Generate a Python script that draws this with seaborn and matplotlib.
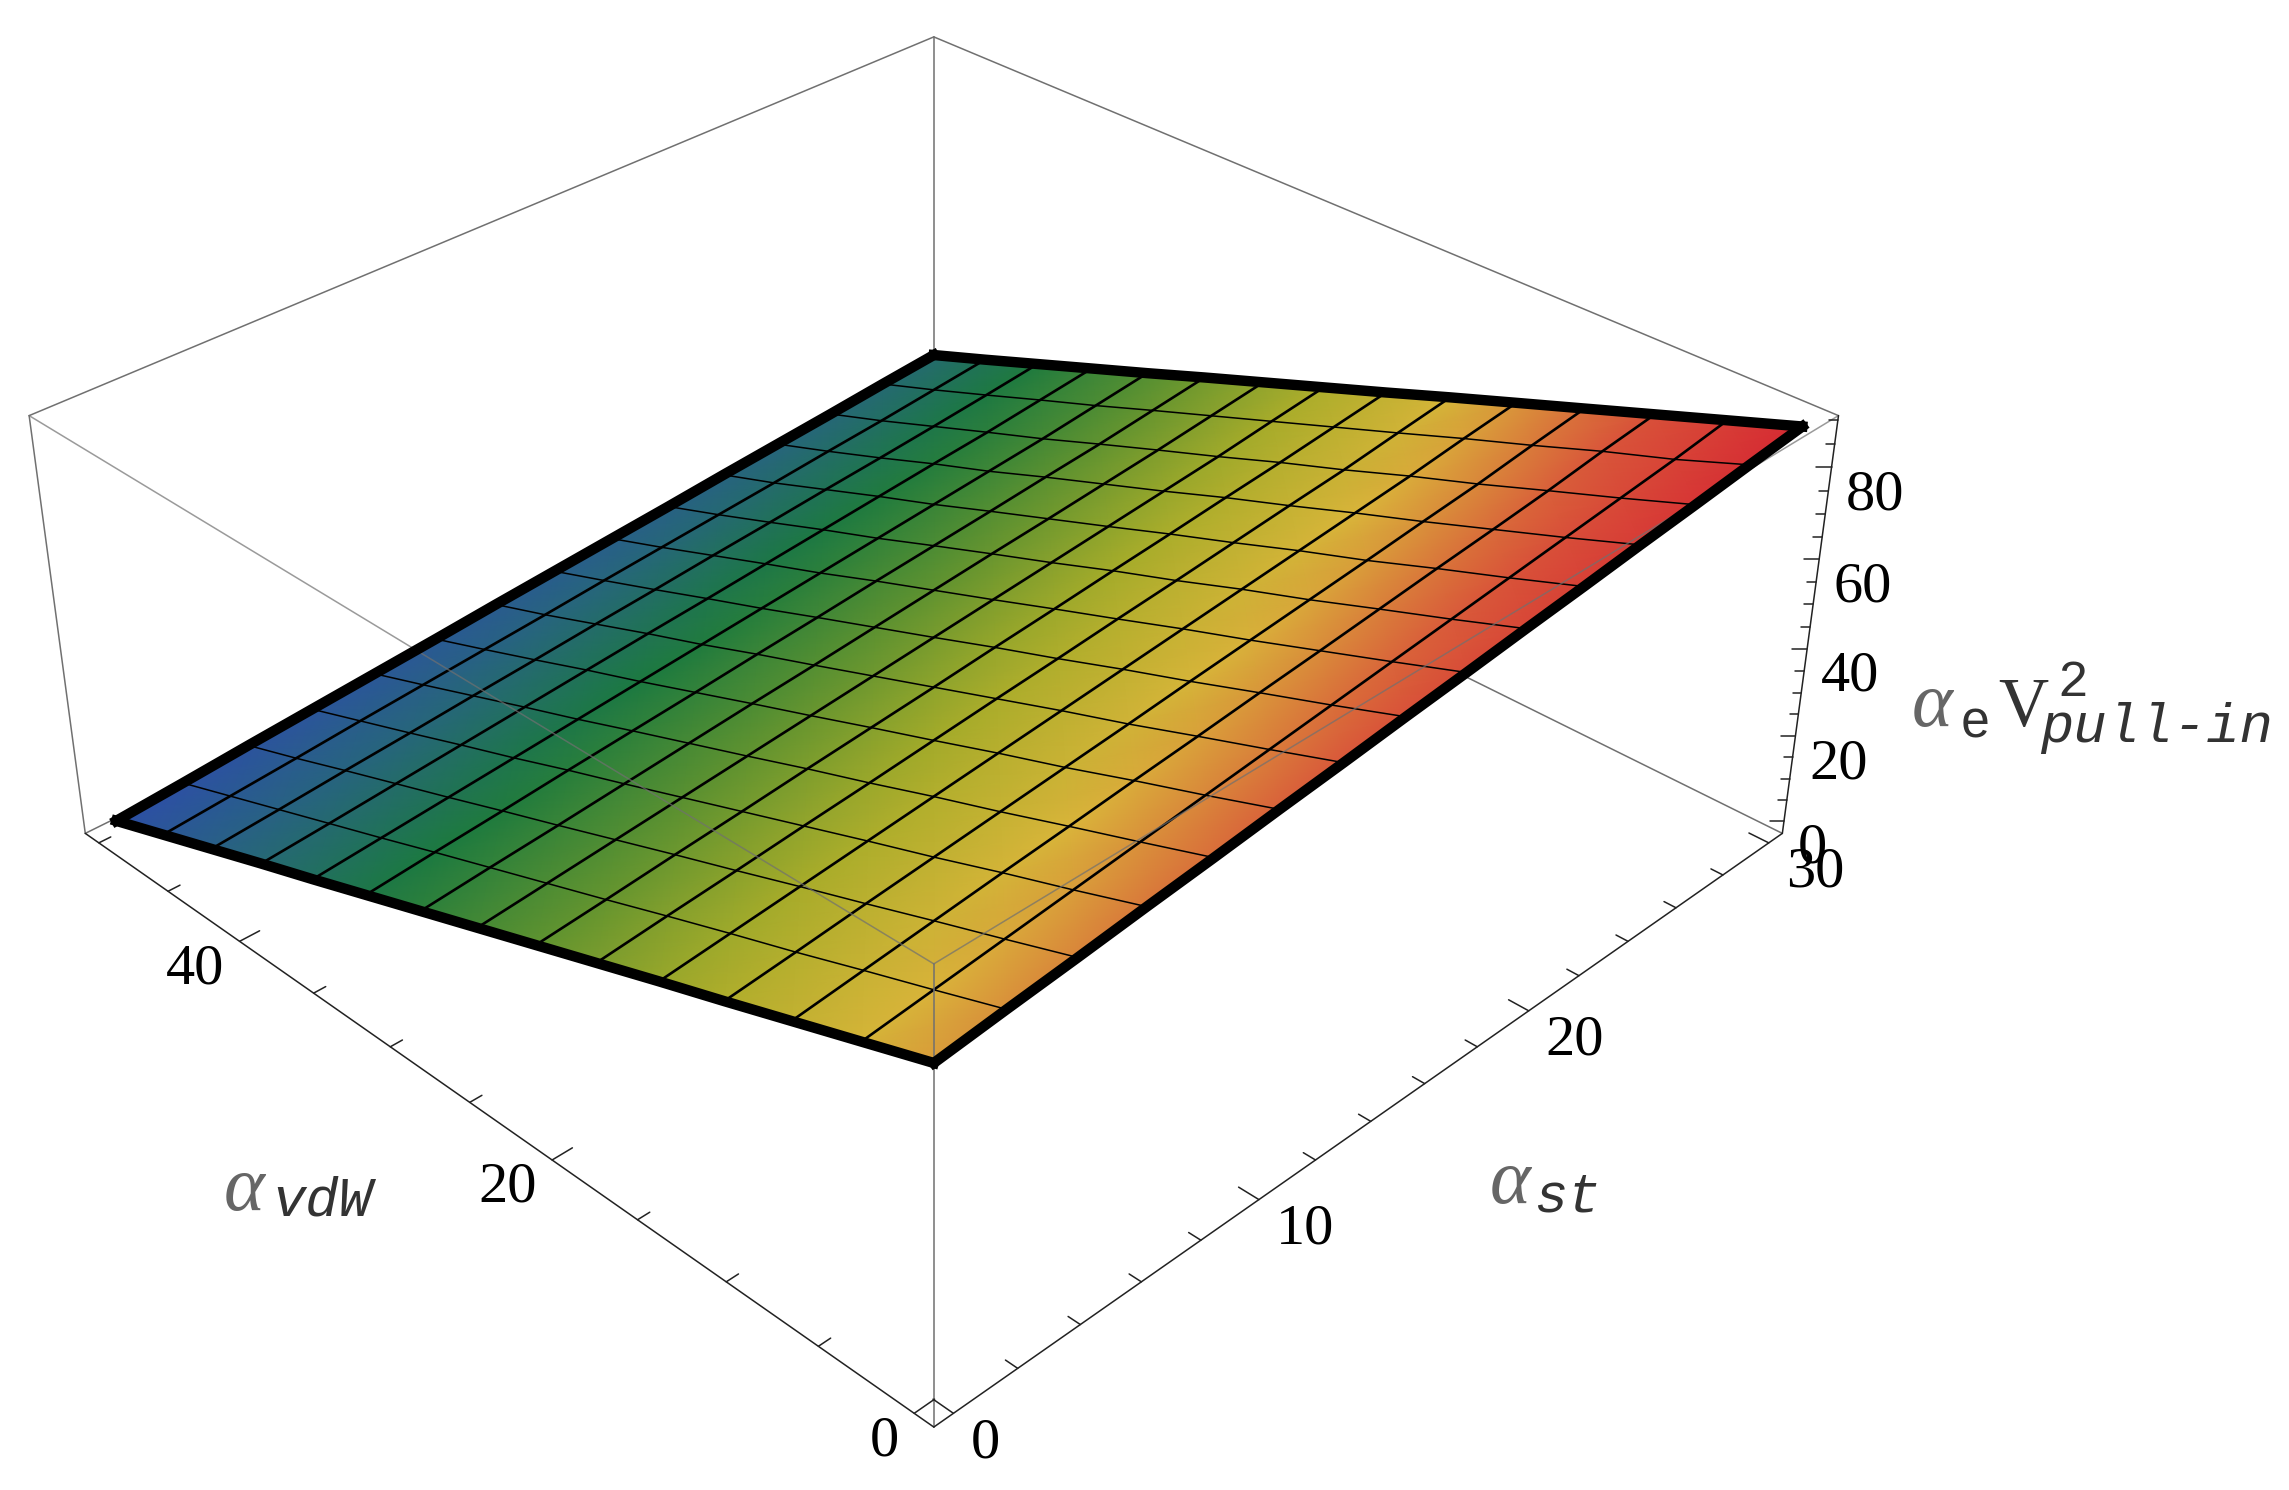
import numpy as np
import matplotlib
matplotlib.use('Agg')
import matplotlib.pyplot as plt
import seaborn as sns
from matplotlib.collections import QuadMesh
from matplotlib.colors import Normalize
from mpl_toolkits.mplot3d import proj3d

# mesh nodes of the surface
alpha_st = [0.0, 2.14, 4.29, 6.43, 8.57, 10.71, 12.86, 15.0, 17.14, 19.29, 21.43, 23.57, 25.71, 27.86, 30.0]
alpha_vdw = [0.0, 3.57, 7.14, 10.71, 14.29, 17.86, 21.43, 25.0, 28.57, 32.14, 35.71, 39.29, 42.86, 46.43, 50.0]

# alpha_e * V^2, one row per alpha_vdw
pull_in = [
    [67.0, 68.6, 70.1, 71.7, 73.2, 74.8, 76.3, 77.9, 79.4, 81.0, 82.5, 84.1, 85.6, 87.2, 88.7],
    [62.2, 63.7, 65.2, 66.7, 68.2, 69.7, 71.2, 72.7, 74.2, 75.7, 77.2, 78.7, 80.2, 81.7, 83.5],
    [57.4, 58.9, 60.4, 61.9, 63.3, 64.8, 66.2, 67.7, 69.1, 70.6, 72.1, 73.5, 75.0, 76.8, 78.3],
    [52.6, 54.0, 55.5, 56.9, 58.3, 59.7, 61.1, 62.6, 64.0, 65.4, 66.8, 68.3, 69.7, 71.5, 73.1],
    [47.9, 49.3, 50.7, 52.1, 53.5, 54.9, 56.3, 57.7, 59.1, 60.5, 61.9, 63.3, 64.7, 66.4, 67.9],
    [43.1, 44.5, 45.8, 47.2, 48.5, 49.9, 51.3, 52.6, 54.0, 55.3, 56.7, 58.1, 59.4, 61.1, 62.7],
    [38.3, 39.6, 41.0, 42.3, 43.7, 45.0, 46.3, 47.7, 49.0, 50.4, 51.7, 53.1, 54.4, 55.9, 57.4],
    [33.5, 34.8, 36.1, 37.4, 38.7, 40.0, 41.3, 42.6, 43.9, 45.2, 46.5, 47.8, 49.1, 50.7, 52.2],
    [28.7, 30.0, 31.2, 32.5, 33.8, 35.1, 36.3, 37.6, 38.9, 40.2, 41.4, 42.7, 44.0, 45.5, 47.0],
    [23.9, 25.2, 26.4, 27.7, 28.9, 30.1, 31.4, 32.6, 33.9, 35.1, 36.3, 37.6, 38.8, 40.3, 41.8],
    [19.1, 20.3, 21.5, 22.7, 23.9, 25.1, 26.3, 27.5, 28.7, 29.9, 31.1, 32.3, 33.5, 35.0, 36.5],
    [14.4, 15.5, 16.7, 17.9, 19.1, 20.3, 21.5, 22.6, 23.8, 25.0, 26.2, 27.4, 28.5, 29.9, 31.3],
    [9.6, 10.7, 11.9, 13.0, 14.2, 15.3, 16.5, 17.6, 18.8, 19.9, 21.1, 22.2, 23.4, 24.7, 26.1],
    [4.8, 5.9, 7.0, 8.2, 9.3, 10.4, 11.5, 12.7, 13.8, 14.9, 16.0, 17.2, 18.3, 19.6, 20.9],
    [0.0, 1.1, 2.3, 3.4, 4.5, 5.6, 6.8, 7.9, 9.0, 10.1, 11.3, 12.4, 13.5, 14.7, 15.8],
]

st_major = [0, 10, 20, 30]
st_minor = [2, 4, 6, 8, 12, 14, 16, 18, 22, 24, 26, 28]
vdw_major = [0, 20, 40]
vdw_minor = [5, 10, 15, 25, 30, 35, 45, 50]
z_major = [0, 20, 40, 60, 80]
z_minor = [5, 10, 15, 25, 30, 35, 45, 50, 55, 65, 70, 75, 85, 90]

surface_colors = ['#2d4fa6', '#27667c', '#1c7a3f', '#5d9230', '#a9ad2a', '#d9b53a', '#d9573a', '#d62a33']

W, H = 2289, 1490
XLIM = (-0.6, 30.6)
YLIM = (-1.0, 51.0)
ZLIM = (-3.0, 91.0)
GRAY = '#707070'

sns.set_theme(style='white')
plt.rcParams['font.family'] = 'Liberation Serif'

fig = plt.figure(figsize=(W / 100, H / 100), dpi=100, facecolor='white')
ax = fig.add_axes([238 / W, 163 / H, 1355 / W, 1355 / H], projection='3d', computed_zorder=False)
ax.set_xlim(*XLIM)
ax.set_ylim(*YLIM)
ax.set_zlim(*ZLIM)
ax.set_box_aspect((1, 1, 0.40), zoom=1.304)
ax.view_init(elev=32.6, azim=-135)
ax.set_proj_type('persp', focal_length=0.569)
ax.set_axis_off()
ax.patch.set_visible(False)


def line3(xs, ys, zs, **kw):
    kw.setdefault('color', GRAY)
    kw.setdefault('lw', 1.1)
    kw.setdefault('zorder', 1)
    ax.plot(xs, ys, zs, clip_on=False, **kw)


x0, x1 = XLIM
y0, y1 = YLIM
z0, z1 = ZLIM

# box edges behind the surface
line3([x0, x1], [y1, y1], [z0, z0])
line3([x1, x1], [y0, y1], [z0, z0])
line3([x1, x1], [y1, y1], [z0, z1])
line3([x0, x1], [y1, y1], [z1, z1])
line3([x1, x1], [y0, y1], [z1, z1])
line3([x0, x0], [y1, y1], [z0, z1])

# surface, gouraud shaded in the projected coordinates of the 3d axes
st_grid, vdw_grid = np.meshgrid(alpha_st, alpha_vdw)
z_grid = np.array(pull_in)
M = ax.get_proj()
px, py, _ = proj3d.proj_transform(st_grid.ravel(), vdw_grid.ravel(), z_grid.ravel(), M)
coords = np.dstack([px.reshape(z_grid.shape), py.reshape(z_grid.shape)])
cmap = sns.blend_palette(surface_colors, as_cmap=True)
mesh = QuadMesh(coords, shading='gouraud', cmap=cmap, norm=Normalize(0, 89), array=z_grid.ravel(),
                transform=ax.transData, zorder=2)
mesh.do_3d_projection = lambda: 0
ax.add_collection(mesh, autolim=False)
mesh.set_clip_on(False)

# mesh lines
for j in range(1, 14):
    line3(alpha_st, [alpha_vdw[j]] * 15, z_grid[j], color='black', lw=1.9, zorder=3)
for i in range(1, 14):
    line3([alpha_st[i]] * 15, alpha_vdw, z_grid[:, i], color='black', lw=1.1, zorder=3)

# box edges in front of the surface
line3([x0, x1], [y0, y0], [z1, z1], alpha=0.7, zorder=4)
line3([x0, x0], [y0, y1], [z1, z1], alpha=0.7, zorder=4)
line3([x0, x0], [y0, y0], [z0, z1], zorder=4)

# thick border
for xs, ys, zs in [(alpha_st, [alpha_vdw[0]] * 15, z_grid[0]),
                   (alpha_st, [alpha_vdw[-1]] * 15, z_grid[-1]),
                   ([alpha_st[0]] * 15, alpha_vdw, z_grid[:, 0]),
                   ([alpha_st[-1]] * 15, alpha_vdw, z_grid[:, -1])]:
    line3(xs, ys, zs, color='black', lw=7.5, zorder=5, solid_capstyle='projecting')

# axes with ticks
line3([x0, x1], [y0, y0], [z0, z0], color='#222222', zorder=6)
line3([x0, x0], [y0, y1], [z0, z0], color='#222222', zorder=6)
line3([x1, x1], [y0, y0], [z0, z1], color='#222222', zorder=6)

dx, dy, dz = x1 - x0, y1 - y0, z1 - z0
for t in st_major + st_minor:
    size = 0.02 if t in st_major else 0.012
    line3([t, t], [y0, y0 + size * dy], [z0, z0], color='#222222', zorder=6)
for t in vdw_major + vdw_minor:
    size = 0.02 if t in vdw_major else 0.012
    line3([x0, x0 + size * dx], [t, t], [z0, z0], color='#222222', zorder=6)
for t in z_major + z_minor:
    size = 0.0085 if t in z_major else 0.005
    line3([x1, x1 - size * dx], [y0, y0 + size * dy], [t, t], color='#222222', zorder=6)


def tick_label(x, y, z, text, offset, ha):
    tx, ty, _ = proj3d.proj_transform(np.array([x]), np.array([y]), np.array([z]), M)
    ax.annotate(text, xy=(tx[0], ty[0]), xytext=offset, textcoords='offset pixels',
                ha=ha, va='center', fontsize=42, color='black', annotation_clip=False, zorder=7)


for t in st_major:
    tick_label(t, y0, z0, str(t), (17, -30), 'left')
for t in vdw_major:
    tick_label(x0, t, z0, str(t), (-15, -28), 'right')
for t in z_major:
    tick_label(x1, y0, t, str(t), (14, -28), 'left')


def label(x, y, text, size, family='Liberation Mono', style='normal', color='#111111'):
    fig.text(x / W, 1 - y / H, text, fontsize=size, family=family, style=style, color=color,
             ha='left', va='baseline')


# alpha_vdW
label(224, 1210, 'α', 56, family='Liberation Serif', style='italic', color='#666666')
label(272, 1215, 'vdW', 40, style='italic', color='#333333')
# alpha_st
label(1490, 1203, 'α', 56, family='Liberation Serif', style='italic', color='#666666')
label(1534, 1212, 'st', 40, style='italic', color='#333333')
# alpha_e V^2_pull-in
label(1912, 726, 'α', 56, family='Liberation Serif', style='italic', color='#666666')
label(1960, 737, 'e', 37, color='#333333')
label(1998, 726, 'V', 50, family='Liberation Serif', color='#333333')
label(2057, 696, '2', 37, color='#333333')
label(2040, 742, 'pull-in', 40, style='italic', color='#333333')

fig.savefig('out.png', dpi=100, facecolor='white')
